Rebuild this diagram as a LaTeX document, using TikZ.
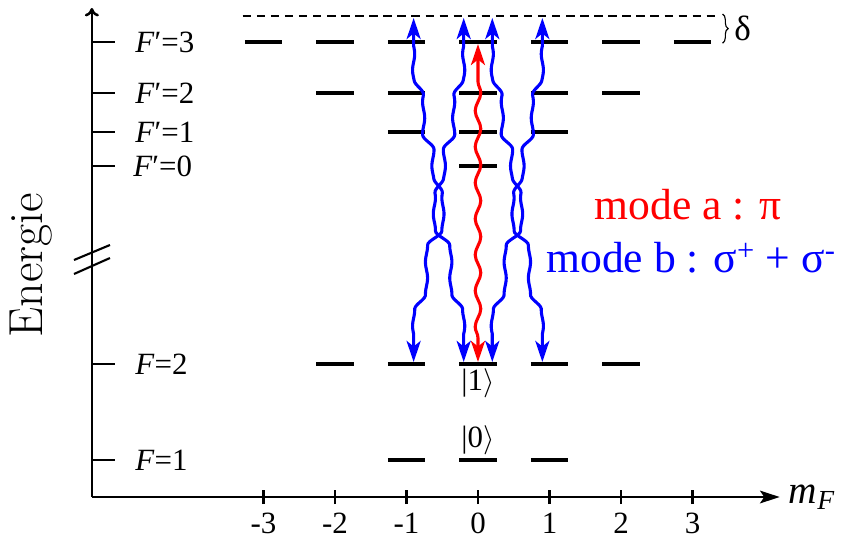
\documentclass[tikz,border=0pt]{standalone}
\usepackage{fontspec}
\usetikzlibrary{arrows.meta, decorations.pathmorphing, decorations.pathreplacing}
\newfontfamily\tnr{Liberation Serif}
\tikzstyle{level}=[line width=2.3pt]
\tikzstyle{axis}=[line width=1.8pt]
\tikzstyle{lbl}=[font=\tnr\fontsize{22}{26}\selectfont]
\tikzstyle{big}=[font=\tnr\fontsize{31}{36}\selectfont]
\tikzstyle{photon}=[line width=2.2pt, >={Stealth[length=15pt,width=10pt,inset=4pt]}, <->]
\tikzstyle{wavy}=[decorate, decoration={snake, amplitude=0.07cm, segment length=0.9cm, pre length=0.6cm, post length=0.6cm}]
\tikzset{declare function={ramp(\u)=min(max((\u+0.18)/0.36,0),1);
	sm(\u)=ramp(\u)*ramp(\u)*(3-2*ramp(\u));
	bend(\t)=0.35-0.18*sm(\t-5.95)-0.23*sm(\t-7.55)+0.14*sm(\t-8.85)+0.13*sm(\t-9.95)+0.14*sm(\t-11.3);}}

\begin{document}
\begin{tikzpicture}[x=1.7875cm, y=1cm]
				\useasboundingbox (-6.685,0) rectangle (5.077,13.5);

				% axes
				\coordinate (O) at (-5.4,1.075);
				\coordinate (ytop) at (-5.4,13.3);
				\coordinate (xend) at (4.22,1.075);
				\draw[axis, -{To[length=6pt,width=10pt]}] (O) -- (ytop);
				\draw[axis, -{Stealth[length=14pt,width=9pt,inset=3pt]}] (O) -- (xend);
				\node[anchor=base west, font=\tnr\fontsize{28}{32}\selectfont] (mF) at (4.28,0.92) {\textit{m}\textsubscript{\textit{F}}};
				\node[rotate=90, font=\fontsize{34}{40}\selectfont] (energie) at (-6.25,6.875) {Energie};

				\foreach \m in {-3,...,3} {
					\draw[axis] (\m,0.9) -- (\m,1.25);
					\node[lbl] (t\m) at (\m,0.42) {\m};
				}

				% axis break
				\draw[axis, line width=1.5pt] (-5.65,6.65) -- (-5.147,7.05);
				\draw[axis, line width=1.5pt] (-5.65,7.0) -- (-5.147,7.375);

				% levels
				\foreach \y/\k in {12.45/3, 11.175/2, 10.2/1, 9.35/0, 4.4/2, 2.0/1} {
					\draw[axis] (-5.4,\y) -- (-5.077,\y);
					\foreach \m in {-\k,...,\k}
						\draw[level] (\m-0.26,\y) -- (\m+0.26,\y);
				}
				\node[lbl, anchor=west] (Fe3) at (-4.86,12.45) {\textit{F}′=3};
				\node[lbl, anchor=west] (Fe2) at (-4.86,11.175) {\textit{F}′=2};
				\node[lbl, anchor=west] (Fe1) at (-4.86,10.2) {\textit{F}′=1};
				\node[lbl, anchor=west] (Fe0) at (-4.89,9.35) {\textit{F}′=0};
				\node[lbl, anchor=west] (Fg2) at (-4.86,4.4) {\textit{F}=2};
				\node[lbl, anchor=west] (Fg1) at (-4.86,2.0) {\textit{F}=1};

				% virtual level
				\draw[dashed, line width=1pt, dash pattern=on 6pt off 4pt] (-3.29,13.1) -- (3.38,13.1);
				\draw[decorate, decoration={brace, amplitude=4pt}, line width=0.8pt] (3.42,13.15) -- (3.42,12.42);
				\node[font=\tnr\fontsize{25}{28}\selectfont] (delta) at (3.7,12.8) {δ};

				% kets
				\node[lbl] (ket1) at (0,3.925) {|1$\rangle$};
				\node[lbl] (ket0) at (0,2.5) {|0$\rangle$};

				% mode a
				\coordinate (g0) at (0,4.45);
				\coordinate (e0) at (0,12.4);
				\draw[photon, wavy, red] (g0) -- (e0);

				% mode b
				\foreach \c in {-0.55,0.55}
					\foreach \s in {-1,1}
						\draw[photon, blue] (\c+\s*0.35,4.45) -- plot[domain=5.15:12.35, samples=160, variable=\t] ({\c+\s*(bend(\t)+0.015*sin(450*(\t-5.15)))}, \t) -- (\c+\s*0.35,13.05);

				\node[big, red] (modea) at (2.94,8.375) {mode a : π};
				\node[big, blue] (modeb) at (2.98,7.05) {mode b : σ\textsuperscript{+} + σ\textsuperscript{-}};
			\end{tikzpicture}
\end{document}
